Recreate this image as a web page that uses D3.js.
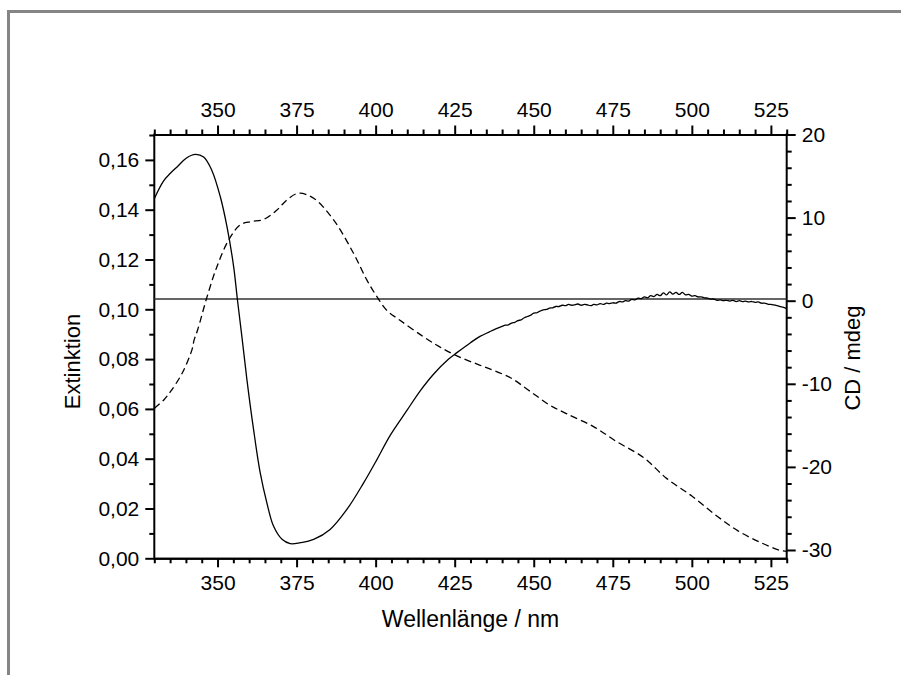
<!DOCTYPE html>
<html>
<head>
<meta charset="utf-8">
<script src="https://cdn.jsdelivr.net/npm/d3@7"></script>
<style>
  html, body { margin: 0; padding: 0; background: #fff; }
  svg { display: block; }
  text { font-family: "Liberation Sans", Arial, sans-serif; fill: #000; }
</style>
</head>
<body>
<svg id="chart" width="901" height="675"></svg>
<script>
// ---- Data ----
// Extinction (dashed, left axis)
const extWavelength = [330, 333, 335.1, 338.8, 341.9, 342.6, 343.7, 346.7, 349.8, 353.5, 357.2, 360.5, 364.6, 368.8, 372, 375.6, 380.4, 386.7, 393, 397.2, 400.4, 403.6, 407.8, 415.1, 420, 426.2, 434.1, 442.5, 448.9, 455.2, 460.5, 468.9, 476.3, 484.7, 492, 500, 507.9, 514.6, 521.5, 527.8, 530];
const extValues = [0.0602, 0.0636, 0.0669, 0.0743, 0.0837, 0.0877, 0.0917, 0.1051, 0.1171, 0.1278, 0.1339, 0.1352, 0.1361, 0.1399, 0.1440, 0.1466, 0.1446, 0.1359, 0.1225, 0.1118, 0.1051, 0.0995, 0.0955, 0.0890, 0.0851, 0.0810, 0.0770, 0.0726, 0.0670, 0.0614, 0.0580, 0.0529, 0.0468, 0.0405, 0.0321, 0.0250, 0.0170, 0.0110, 0.0065, 0.0032, 0.0028];

// CD (solid, right axis)
const cdWavelength = [330, 332.9, 335, 337.2, 340.3, 343, 345.6, 348.2, 350.9, 353, 355.1, 356.3, 357.7, 359.3, 361.4, 363.5, 365.6, 367.7, 370.4, 373, 376.2, 380.4, 385.6, 390.9, 396.2, 400.4, 404.6, 409.9, 414.1, 418.3, 423, 425.7, 430, 433, 436, 438,
  440, 441, 442, 443, 444, 445, 446, 447, 448, 449, 450, 451, 452, 453, 454, 455, 456, 457, 458, 459,
  460, 461, 462, 463, 464, 465, 466, 467, 468, 469, 470, 471, 472, 473, 474, 475, 476, 477, 478, 479,
  480, 481, 482, 483, 484, 485, 486, 487, 488, 489, 490, 491, 492, 493, 494, 495, 496, 497, 498, 499,
  500, 501, 502, 503, 504, 505, 506, 507, 508, 509, 510, 511, 512, 513, 514, 515, 516, 517, 518, 519,
  520, 521, 522, 523, 524, 525, 526, 527, 528, 529, 530];
const cdValues = [12.28, 14.4, 15.3, 16.1, 17.2, 17.6, 17.28, 15.68, 12.48, 8.88, 4.08, 0.08, -4.32, -9.52, -15.52, -20.72, -24.32, -27.12, -28.72, -29.24, -29.12, -28.72, -27.52, -25.12, -21.92, -19.12, -16.2, -13.2, -10.85, -8.85, -7.05, -6.25, -5.05, -4.3, -3.75, -3.4,
  -3.1, -2.95, -2.9, -2.7, -2.6, -2.4, -2.3, -2.05, -1.9, -1.75, -1.5, -1.45, -1.25, -1.1, -1.05, -0.9, -0.85, -0.7, -0.7, -0.55,
  -0.6, -0.45, -0.55, -0.5, -0.4, -0.55, -0.45, -0.5, -0.6, -0.45, -0.5, -0.35, -0.45, -0.3, -0.35, -0.25, -0.3, -0.1, -0.15, 0.0,
  -0.05, 0.15, 0.1, 0.3, 0.25, 0.45, 0.35, 0.6, 0.5, 0.75, 0.6, 0.95, 0.7, 1.05, 0.8, 1.0, 0.75, 1.0, 0.7, 0.75,
  0.55, 0.6, 0.45, 0.45, 0.35, 0.3, 0.2, 0.2, 0.05, 0.1, 0.0, 0.05, -0.05, 0.05, -0.1, 0.0, -0.1, -0.05, -0.15, -0.1,
  -0.2, -0.15, -0.3, -0.3, -0.4, -0.45, -0.5, -0.6, -0.7, -0.8, -0.95];

// CD zero reference line
const cdBaseline = [0.2];

// Axis ticks
const xMajorTicks = [350, 375, 400, 425, 450, 475, 500, 525];
const xMinorStep = 5;
const leftMajorTicks = [0, 0.02, 0.04, 0.06, 0.08, 0.10, 0.12, 0.14, 0.16];
const leftMinorStep = 0.01;
const rightMajorTicks = [-30, -20, -10, 0, 10, 20];
const rightMinorStep = 2;

const xTitle = "Wellenlänge / nm";
const leftTitle = "Extinktion";
const rightTitle = "CD / mdeg";

// ---- Layout ----
const svg = d3.select("#chart");
const L = 154.3, R = 786.7, T = 134.5, B = 558.3;

const x = d3.scaleLinear().domain([330, 530]).range([L, R]);
const yL = d3.scaleLinear().domain([0, 0.17]).range([B, B - 0.17 * 2490]);
const yR = d3.scaleLinear().domain([-31, 20]).range([B, T]);

// outer frame
svg.append("rect")
  .attr("x", 8.5).attr("y", 11.5)
  .attr("width", 1000).attr("height", 1000)
  .attr("fill", "none").attr("stroke", "#858585").attr("stroke-width", 3);

// minor tick lists
const xMinor = d3.range(330, 530.001, xMinorStep).filter(v => !xMajorTicks.some(m => Math.abs(m - v) < 1e-6));
const leftMinor = d3.range(0, 0.1701, leftMinorStep).map(v => +v.toFixed(3)).filter(v => !leftMajorTicks.some(m => Math.abs(m - v) < 1e-6));
const rightMinor = d3.range(-30, 20.001, rightMinorStep).filter(v => !rightMajorTicks.includes(v));

const fmtComma = d => d3.format(".2f")(d).replace(".", ",");
const fmtPlain = d => String(d);
const tickFont = 21;

function styleAxis(g) {
  g.selectAll("path.domain").attr("stroke", "#000").attr("stroke-width", 2);
  g.selectAll(".tick line").attr("stroke", "#000").attr("stroke-width", 2);
  g.selectAll(".tick text").style("font-family", '"Liberation Sans", Arial, sans-serif').style("font-size", tickFont + "px").attr("fill", "#000");
}

// minor ticks (no labels)
svg.append("g").attr("transform", `translate(0,${B})`)
  .call(d3.axisBottom(x).tickValues(xMinor).tickSize(5).tickSizeOuter(0).tickFormat(""))
  .call(styleAxis);
svg.append("g").attr("transform", `translate(0,${T})`)
  .call(d3.axisTop(x).tickValues(xMinor).tickSize(5).tickSizeOuter(0).tickFormat(""))
  .call(styleAxis);
svg.append("g").attr("transform", `translate(${L},0)`)
  .call(d3.axisLeft(yL).tickValues(leftMinor).tickSize(5).tickSizeOuter(0).tickFormat(""))
  .call(g => g.select("path.domain").remove())
  .call(styleAxis);
svg.append("g").attr("transform", `translate(${R},0)`)
  .call(d3.axisRight(yR).tickValues(rightMinor).tickSize(5).tickSizeOuter(0).tickFormat(""))
  .call(g => g.select("path.domain").remove())
  .call(styleAxis);

// major ticks
svg.append("g").attr("transform", `translate(0,${B})`)
  .call(d3.axisBottom(x).tickValues(xMajorTicks).tickSize(9).tickSizeOuter(0).tickPadding(7.5).tickFormat(fmtPlain))
  .call(styleAxis);
svg.append("g").attr("transform", `translate(0,${T})`)
  .call(d3.axisTop(x).tickValues(xMajorTicks).tickSize(9).tickSizeOuter(0).tickPadding(9).tickFormat(fmtPlain))
  .call(styleAxis);
svg.append("g").attr("transform", `translate(${L},0)`)
  .call(d3.axisLeft(yL).tickValues(leftMajorTicks).tickSize(9).tickSizeOuter(0).tickPadding(6).tickFormat(fmtComma))
  .call(g => g.select("path.domain").attr("d", `M0,${B + 1}V${T - 1}`))
  .call(styleAxis);
svg.append("g").attr("transform", `translate(${R},0)`)
  .call(d3.axisRight(yR).tickValues(rightMajorTicks).tickSize(9).tickSizeOuter(0).tickPadding(6).tickFormat(fmtPlain))
  .call(g => g.select("path.domain").attr("d", `M0,${B + 1}V${T - 1}`))
  .call(styleAxis);

// CD zero line
svg.append("g").selectAll("line").data(cdBaseline).join("line")
  .attr("x1", L).attr("x2", R)
  .attr("y1", d => yR(d)).attr("y2", d => yR(d))
  .attr("stroke", "#333").attr("stroke-width", 1.4);

// Curves
const extData = extWavelength.map((w, i) => ({ w, v: extValues[i] }));
const cdData = cdWavelength.map((w, i) => ({ w, v: cdValues[i] }));

svg.append("path").datum(extData)
  .attr("fill", "none").attr("stroke", "#000").attr("stroke-width", 1.3)
  .attr("stroke-dasharray", "7,4")
  .attr("d", d3.line().x(d => x(d.w)).y(d => yL(d.v)).curve(d3.curveCatmullRom.alpha(0.5)));

svg.append("path").datum(cdData)
  .attr("fill", "none").attr("stroke", "#000").attr("stroke-width", 1.3)
  .attr("d", d3.line().x(d => x(d.w)).y(d => yR(d.v)).curve(d3.curveCatmullRom.alpha(0.5)));

// Titles
svg.append("text")
  .attr("x", (L + R) / 2).attr("y", 626.7)
  .attr("text-anchor", "middle").style("font-size", "23px")
  .text(xTitle);

svg.append("text")
  .attr("transform", "translate(80,361.5) rotate(-90)")
  .attr("text-anchor", "middle").style("font-size", "22px")
  .text(leftTitle);

svg.append("text")
  .attr("transform", "translate(860,358) rotate(-90)")
  .attr("text-anchor", "middle").style("font-size", "22px")
  .text(rightTitle);
</script>
</body>
</html>
